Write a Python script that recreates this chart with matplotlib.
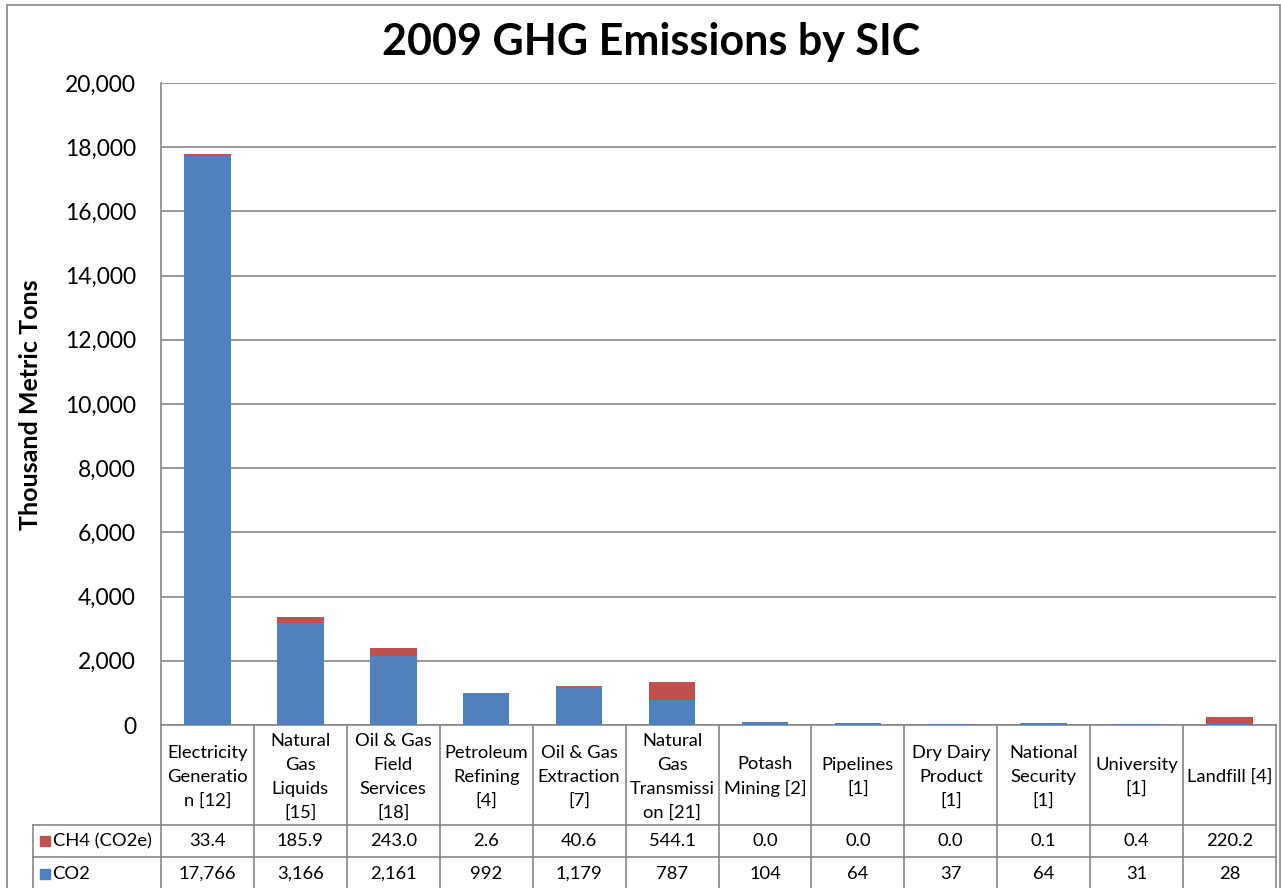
import matplotlib.pyplot as plt
import matplotlib.transforms as mtransforms
from matplotlib.patches import Rectangle

categories = ["Electricity\nGeneratio\nn [12]", "Natural\nGas\nLiquids\n[15]", "Oil & Gas\nField\nServices\n[18]",
              "Petroleum\nRefining\n[4]", "Oil & Gas\nExtraction\n[7]", "Natural\nGas\nTransmissi\non [21]",
              "Potash\nMining [2]", "Pipelines\n[1]", "Dry Dairy\nProduct\n[1]", "National\nSecurity\n[1]",
              "University\n[1]", "Landfill [4]"]
co2 = [17766, 3166, 2161, 992, 1179, 787, 104, 64, 37, 64, 31, 28]
ch4 = [33.4, 185.9, 243.0, 2.6, 40.6, 544.1, 0.0, 0.0, 0.0, 0.1, 0.4, 220.2]
co2_labels = ["17,766", "3,166", "2,161", "992", "1,179", "787", "104", "64", "37", "64", "31", "28"]
ch4_labels = ["%.1f" % v for v in ch4]

blue = "#4F81BD"
red = "#C0504D"
grey = "#868686"
plt.rcParams['font.family'] = ['Lato', 'DejaVu Sans']

W, H = 1281, 888
fig = plt.figure(figsize=(W / 100, H / 100), dpi=100)
ax = fig.add_axes([161 / W, 1 - 725 / H, (1276 - 161) / W, 642 / H])

x = list(range(len(categories)))
ax.bar(x, co2, width=0.5, color=blue, zorder=3)
ax.bar(x, ch4, width=0.5, bottom=co2, color=red, zorder=3)

ax.set_xlim(-0.5, len(categories) - 0.5)
ax.set_ylim(0, 20000)
ax.set_yticks(range(0, 20001, 2000))
ax.set_yticklabels([f"{v:,}" for v in range(0, 20001, 2000)], fontsize=16.5)
ax.tick_params(axis='y', length=0, pad=18)
ax.set_xticks([])
ax.grid(axis='y', color=grey, lw=1.2, zorder=0)
for s in ['top', 'right']:
    ax.spines[s].set_visible(False)
for s in ['left', 'bottom']:
    ax.spines[s].set_color(grey)
    ax.spines[s].set_linewidth(1.2)

# data table under the plot
trans = mtransforms.blended_transform_factory(ax.transData, ax.transAxes)
h1, h2, h3 = -100 / 642, -132 / 642, -170 / 642
leg_left = (33 - 161) / ((1276 - 161) / 12) - 0.5
n = len(categories)
fs = 13.2
for i in range(n + 1):
    ax.plot([i - 0.5, i - 0.5], [0, h3], color=grey, lw=1.2, transform=trans, clip_on=False)
ax.plot([leg_left, leg_left], [h1, h3], color=grey, lw=1.2, transform=trans, clip_on=False)
for yy in [h1, h2]:
    ax.plot([leg_left, n - 0.5], [yy, yy], color=grey, lw=1.2, transform=trans, clip_on=False)

for i, c in enumerate(categories):
    ax.text(i, h1 / 2 - 0.003, c, ha='center', va='center', fontsize=fs, linespacing=1.58,
            transform=trans, clip_on=False)
    ax.text(i, (h1 + h2) / 2, ch4_labels[i], ha='center', va='center', fontsize=fs,
            transform=trans, clip_on=False)
    ax.text(i, (h2 + h3 + 0.006) / 2, co2_labels[i], ha='center', va='center', fontsize=fs,
            transform=trans, clip_on=False)

mk = leg_left + 0.125
ax.plot([mk], [(h1 + h2) / 2], marker='s', ms=7, color=red, transform=trans, clip_on=False)
ax.plot([mk], [(h2 + h3 + 0.006) / 2], marker='s', ms=7, color=blue, transform=trans, clip_on=False)
ax.text(mk + 0.085, (h1 + h2) / 2, "CH4 (CO2e)", ha='left', va='center', fontsize=fs,
        transform=trans, clip_on=False)
ax.text(mk + 0.085, (h2 + h3 + 0.006) / 2, "CO2", ha='left', va='center', fontsize=fs,
        transform=trans, clip_on=False)

fig.text(651 / W, 1 - 42 / H, "2009 GHG Emissions by SIC", ha='center', va='center',
         fontsize=31, fontweight='bold')
fig.text(30 / W, 1 - 405 / H, "Thousand Metric Tons", ha='center', va='center',
         rotation=90, fontsize=18, fontweight='bold')

fig.add_artist(Rectangle((7 / W, -0.01), (1280 - 7) / W, 1.01 - 5 / H, transform=fig.transFigure,
                         fill=False, edgecolor=grey, lw=1.2))

plt.savefig("out.png", dpi=100)
